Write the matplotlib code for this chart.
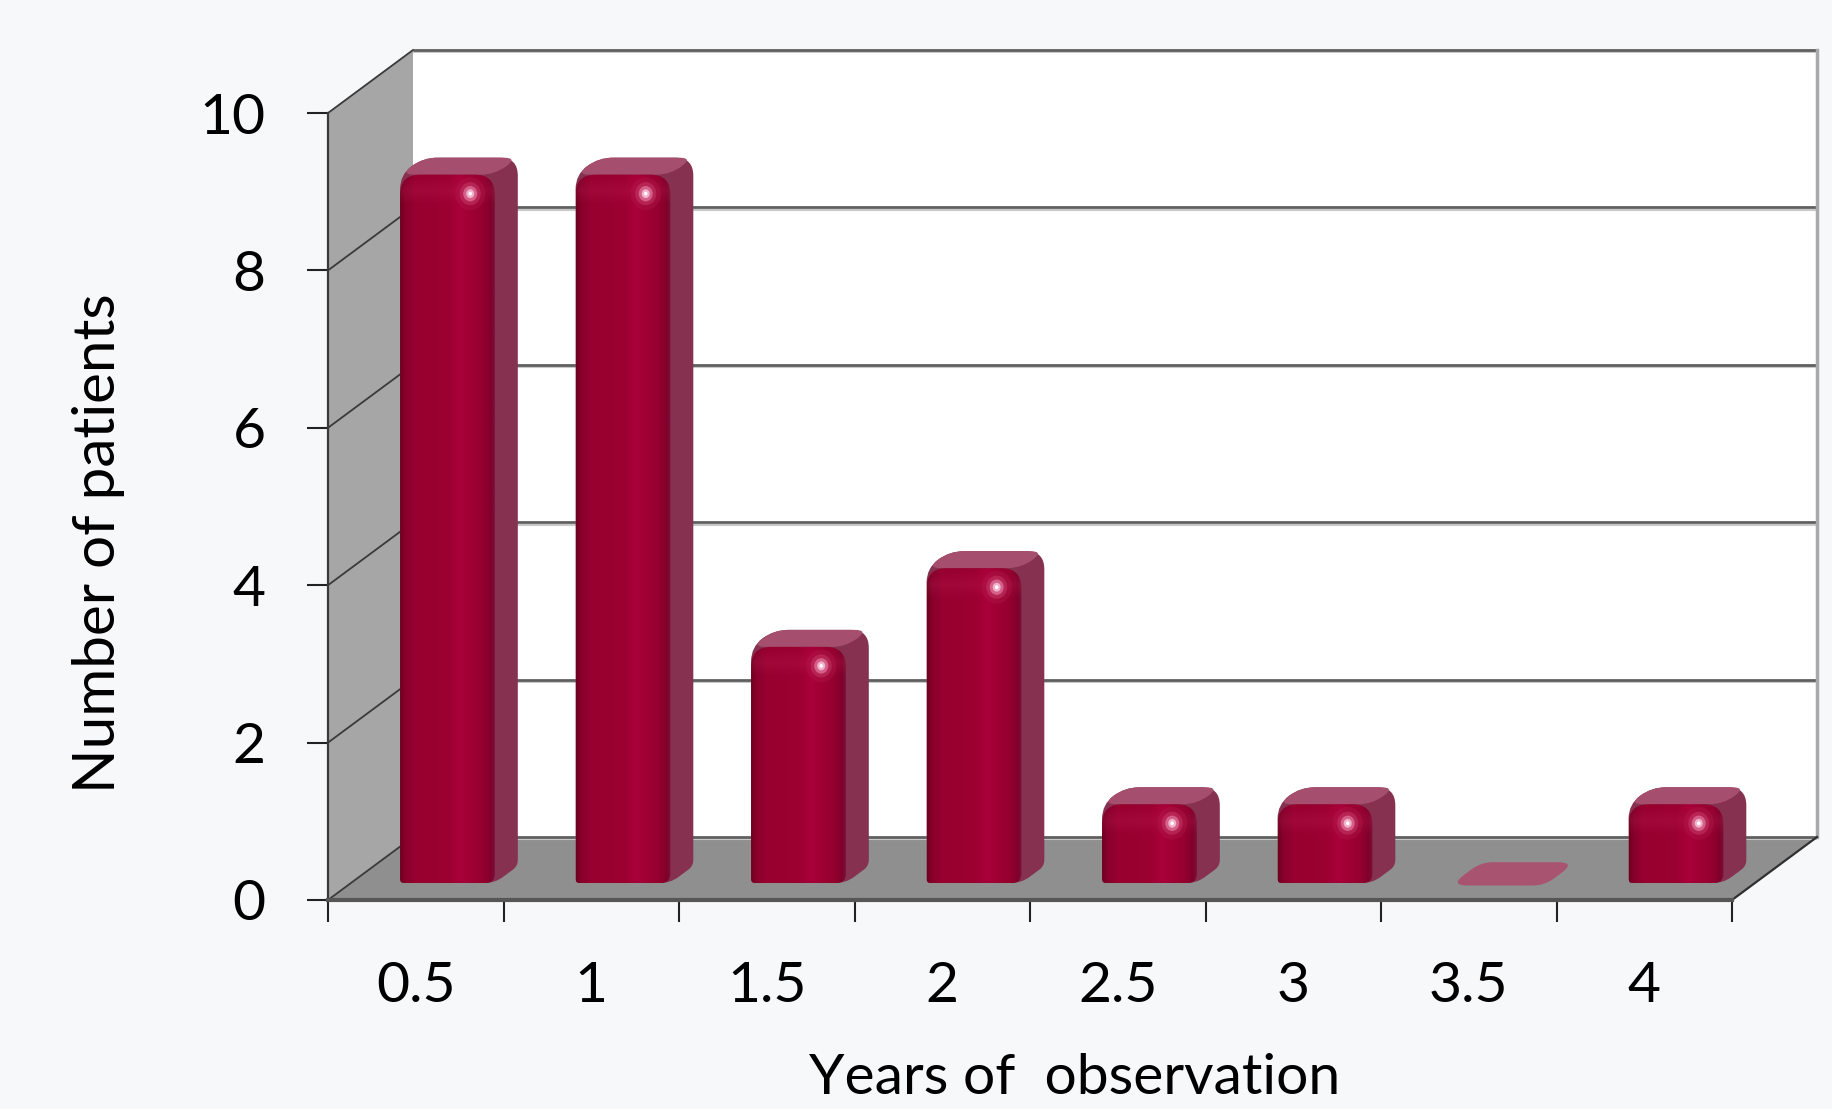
import numpy as np
import matplotlib
matplotlib.use("Agg")
import matplotlib.pyplot as plt
from matplotlib.path import Path
from matplotlib.patches import PathPatch, Polygon, Ellipse
from matplotlib.colors import to_rgb

# ---- data -------------------------------------------------------------
years = ["0.5", "1", "1.5", "2", "2.5", "3", "3.5", "4"]
patients = [9, 9, 3, 4, 1, 1, 0, 1]
y_ticks = [0, 2, 4, 6, 8, 10]

plt.rcParams['font.family'] = ['Lato', 'DejaVu Sans']
FS = 41

W, H, DPI = 1832, 1109, 100
fig = plt.figure(figsize=(W / DPI, H / DPI), dpi=DPI, facecolor='#f7f8fa')

# front plane: one category = CAT_PX pixels, one patient = UNIT_PX pixels
X0, Y0 = 328, 900
CAT_PX, UNIT_PX = 175.5, 78.7
XMAX, YMAX = 8.6, 11.0
ax = fig.add_axes([X0 / W, (H - Y0) / H, XMAX * CAT_PX / W, YMAX * UNIT_PX / H])
ax.set_autoscale_on(False)
ax.set_xlim(0, XMAX)
ax.set_ylim(0, YMAX)
ax.patch.set_visible(False)

# oblique depth offset of the chart box (data units)
DX = 85 / CAT_PX
DY = 63 / UNIT_PX
n = len(years)
ytop = max(y_ticks)


def P(x, y, z):
    return (x + z * DX, y + z * DY)


# ---- walls and floor --------------------------------------------------
ax.add_patch(Polygon([P(0, 0, 1), P(n, 0, 1), P(n, ytop, 1), P(0, ytop, 1)],
                     closed=True, fc='white', ec='none', zorder=0.2))
ax.add_patch(Polygon([P(0, 0, 0), P(0, 0, 1), P(0, ytop, 1), P(0, ytop, 0)],
                     closed=True, fc='#a6a6a6', ec='none', zorder=0.3))
ax.add_patch(Polygon([P(0, 0, 0), P(n, 0, 0), P(n, 0, 1), P(0, 0, 1)],
                     closed=True, fc='#8f8f8f', ec='none', zorder=0.4))

for t in y_ticks:
    xa, ya = P(0, t, 1)
    xb, yb = P(n, t, 1)
    ax.plot([xa, xb], [ya - 0.03, yb - 0.03], color='#c8c8c8', lw=1.5, zorder=0.5,
            solid_capstyle='butt')
    ax.plot([xa, xb], [ya, yb], color='#606060', lw=2.0, zorder=0.6,
            solid_capstyle='butt')
    xf, yf = P(0, t, 0)
    ax.plot([xf, xa], [yf, ya], color='#3a3a3a', lw=1.3, zorder=0.7)

xa, ya = P(n, 0, 1)
xb, yb = P(n, ytop, 1)
ax.plot([xa, xb], [ya, yb], color='#a9a9a9', lw=2.5, zorder=0.6)
xf, yf = P(n, 0, 0)
ax.plot([xf, xa], [yf, ya], color='#303030', lw=1.6, zorder=0.7)


# ---- rounded 3-D columns ---------------------------------------------
def rounded(verts, radii):
    pts = ax.transData.transform(np.asarray(verts, float))
    m = len(pts)
    out, codes = [], []
    for k in range(m):
        p, a, b = pts[k], pts[k - 1], pts[(k + 1) % m]
        da, db = a - p, b - p
        la, lb = np.hypot(*da), np.hypot(*db)
        r = min(radii[k], la / 2, lb / 2)
        p1 = p + da / la * r
        p2 = p + db / lb * r
        out.append(p1)
        codes.append(Path.MOVETO if k == 0 else Path.LINETO)
        out += [p, p2]
        codes += [Path.CURVE3, Path.CURVE3]
    out.append(out[0])
    codes.append(Path.CLOSEPOLY)
    return Path(ax.transData.inverted().transform(np.array(out)), codes)


HALF = 0.27           # half column width (categories)
SHIFT = 0.05          # columns sit slightly right of the category centre
Z0, Z1 = 0.27, 0.54   # column depth span inside the box
SIDE = '#85314f'
TOP = '#a54e6d'

# horizontal shading profile of the front face
prof_t = [0.0, 0.05, 0.16, 0.5, 0.64, 0.74, 0.88, 0.96, 1.0]
prof_c = ['#70001f', '#87002b', '#980030', '#9b0031', '#aa003a', '#a00034',
          '#94002f', '#80002b', '#7a1036']
prof_rgb = np.array([to_rgb(c) for c in prof_c])


def front_image(w_px, h_px):
    w_px, h_px = max(int(w_px), 2), max(int(h_px), 2)
    t = np.linspace(0, 1, w_px)
    row = np.stack([np.interp(t, prof_t, prof_rgb[:, j]) for j in range(3)], axis=1)
    img = np.repeat(row[None, :, :], h_px, axis=0)
    d = np.arange(h_px)[:, None, None]
    bevel = np.clip(1 - np.abs(d - 16) / 14.0, 0, 1) * 0.2
    img = img * (1 - bevel) + np.array(to_rgb('#c22a5a')) * bevel
    return np.clip(img, 0, 1)


def draw_column(c, v, zo):
    xl, xr = c - HALF, c + HALF
    top = [P(xl, v, Z0), P(xr, v, Z0), P(xr, v, Z1), P(xl, v, Z1)]
    if v == 0:
        flat = [P(xl, v, Z0 - 0.04), P(xr, v, Z0 - 0.04), P(xr, v, Z1 + 0.06), P(xl, v, Z1 + 0.06)]
        ax.add_patch(PathPatch(rounded(flat, [18, 12, 18, 12]),
                               fc='#a8536f', ec='none', zorder=zo))
        return
    sil = [P(xl, 0, Z0), P(xr, 0, Z0), P(xr, 0, Z1), P(xr, v, Z1), P(xl, v, Z1), P(xl, v, Z0)]
    ax.add_patch(PathPatch(rounded(sil, [4, 10, 6, 18, 18, 20]),
                           fc=SIDE, ec='none', zorder=zo))
    ax.add_patch(PathPatch(rounded(top, [18, 16, 18, 16]),
                           fc=TOP, ec='none', zorder=zo + 0.01))
    fl, fb = P(xl, 0, Z0)
    fr, ft = P(xr, v, Z0)
    face = PathPatch(rounded([(fl, fb), (fr, fb), (fr, ft), (fl, ft)], [4, 9, 20, 20]),
                     fc='none', ec='none', zorder=zo + 0.02)
    ax.add_patch(face)
    img = front_image((fr - fl) * CAT_PX, (ft - fb) * UNIT_PX)
    im = ax.imshow(img, extent=(fl, fr, fb, ft), origin='upper', aspect='auto',
                   interpolation='bilinear', zorder=zo + 0.02)
    im.set_clip_path(face)
    # specular glint near the upper right of the front face
    hx = fl + 0.74 * (fr - fl)
    hy = ft - 19 / UNIT_PX
    for s, col, al in [(30, '#b2204f', 0.3), (21, '#c9426f', 0.45),
                       (14, '#e27ba0', 0.7), (8, '#f6bcd2', 0.9), (3.5, '#ffffff', 1.0)]:
        ax.add_patch(Ellipse((hx, hy), s / CAT_PX, s * 1.1 / UNIT_PX, angle=0,
                             fc=col, ec='none', alpha=al, zorder=zo + 0.03))


for i, v in enumerate(patients):
    draw_column(i + 0.5 + SHIFT, v, 3 + i * 0.1)

# ---- axes, ticks and labels -----------------------------------------
for s in ('top', 'right'):
    ax.spines[s].set_visible(False)
ax.spines['left'].set_bounds(0, ytop)
ax.spines['left'].set_color('#3a3a3a')
ax.spines['left'].set_linewidth(1.6)
ax.spines['bottom'].set_bounds(0, n)
ax.spines['bottom'].set_color('#565656')
ax.spines['bottom'].set_linewidth(3)

ax.set_yticks(y_ticks)
ax.set_xticks(np.arange(n + 1))
ax.set_xticklabels([])
ax.set_xticks(np.arange(n) + 0.5, labels=years, minor=True)
ax.tick_params(axis='y', length=15, width=1.5, color='#222222', pad=30,
               labelsize=FS, labelcolor='black')
ax.tick_params(axis='x', which='major', length=16, width=1.5, color='#222222')
ax.tick_params(axis='x', which='minor', length=0, pad=44, labelsize=FS,
               labelcolor='black')

ax.set_xlabel('Years of  observation', fontsize=FS)
ax.xaxis.label.set_va('center')
ax.xaxis.set_label_coords((1075 - X0) / (XMAX * CAT_PX), -(1078 - Y0) / (YMAX * UNIT_PX))
ax.set_ylabel('Number of patients', fontsize=42)
ax.yaxis.label.set_va('center')
ax.yaxis.label.set_ha('center')
ax.yaxis.set_label_coords((99 - X0) / (XMAX * CAT_PX), (Y0 - 543) / (YMAX * UNIT_PX))

fig.savefig('out.png', dpi=DPI, facecolor=fig.get_facecolor())
